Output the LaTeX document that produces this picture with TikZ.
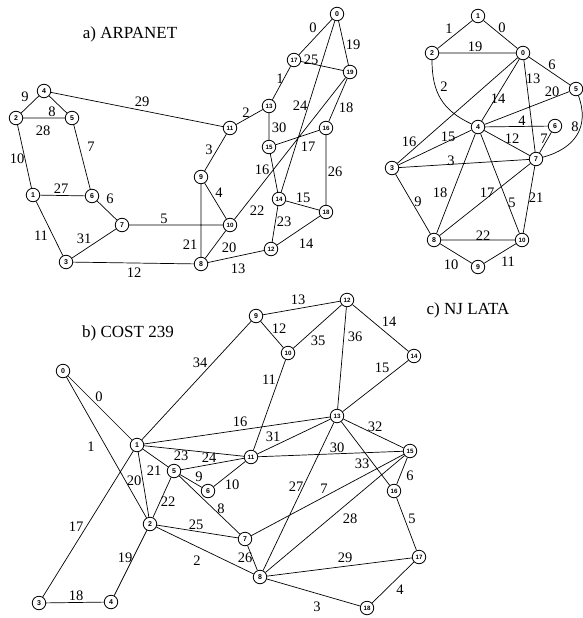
\documentclass[tikz,border=0pt]{standalone}
\usepackage{fontspec}
\setmainfont{Liberation Serif}
\setsansfont{Liberation Sans}
\begin{document}
\begin{tikzpicture}[x=1pt,y=1pt,
  vtx/.style={circle,draw,line width=0.8pt,minimum size=13.5pt,inner sep=0pt,fill=white,
    font=\sffamily\bfseries\fontsize{7}{7}\selectfont},
  vtxs/.style={vtx,font=\sffamily\bfseries\fontsize{6.2}{6.2}\selectfont},
  lab/.style={font=\fontsize{14.5}{14.5}\selectfont,inner sep=0pt},
  ttl/.style={font=\fontsize{17}{17}\selectfont,inner sep=0pt},
  edge/.style={line width=0.7pt}]
\useasboundingbox (0,0) rectangle (583,-618);
% titles
\node[ttl] (ta) at (130,-34) {a) ARPANET};
\node[ttl] (tb) at (128,-333) {b) COST 239};
\node[ttl] (tc) at (468,-310) {c) NJ LATA};
% ===== ARPANET =====
\node[vtx] (a0) at (337,-14) {0};
\node[vtx] (a1) at (33,-195) {1};
\node[vtx] (a2) at (16,-118) {2};
\node[vtx] (a3) at (66,-262) {3};
\node[vtx] (a4) at (44,-91) {4};
\node[vtx] (a5) at (72,-118) {5};
\node[vtx] (a6) at (92,-196) {6};
\node[vtx] (a7) at (122,-225) {7};
\node[vtx] (a8) at (201,-264) {8};
\node[vtx] (a9) at (201,-177) {9};
\node[vtxs] (a10) at (230,-225) {10};
\node[vtxs] (a11) at (230,-128) {11};
\node[vtxs] (a12) at (271,-249) {12};
\node[vtxs] (a13) at (269,-106) {13};
\node[vtxs] (a14) at (279,-199) {14};
\node[vtxs] (a15) at (269,-147) {15};
\node[vtxs] (a16) at (326,-128) {16};
\node[vtxs] (a17) at (294,-60) {17};
\node[vtxs] (a18) at (326,-212) {18};
\node[vtxs] (a19) at (350,-72) {19};
\draw[edge] (a0)--(a17) (a17)--(a13) (a13)--(a11) (a11)--(a9) (a9)--(a10)
 (a10)--(a7) (a7)--(a6) (a6)--(a5) (a5)--(a4) (a4)--(a2) (a2)--(a1) (a1)--(a3)
 (a3)--(a8) (a8)--(a12) (a12)--(a18) (a18)--(a14) (a15)--(a14) (a15)--(a16)
 (a19)--(a16) (a0)--(a19) (a10)--(a8) (a9)--(a8) (a19)--(a10) (a14)--(a12)
 (a0)--(a14) (a17)--(a19) (a16)--(a18) (a1)--(a6) (a2)--(a5) (a4)--(a11)
 (a13)--(a15) (a3)--(a7);
\node[lab] (la0) at (313,-28) {0};
\node[lab] (la1) at (280,-79) {1};
\node[lab] (la2) at (246,-113) {2};
\node[lab] (la3) at (209,-150) {3};
\node[lab] (la4) at (219,-193) {4};
\node[lab] (la5) at (164,-219) {5};
\node[lab] (la6) at (110,-199) {6};
\node[lab] (la7) at (91,-147) {7};
\node[lab] (la8) at (52,-112) {8};
\node[lab] (la9) at (25,-97) {9};
\node[lab] (la10) at (17,-159) {10};
\node[lab] (la11) at (41,-236) {11};
\node[lab] (la12) at (134,-273) {12};
\node[lab] (la13) at (238,-269) {13};
\node[lab] (la14) at (306,-244) {14};
\node[lab] (la15) at (303,-198) {15};
\node[lab] (la16) at (262,-170) {16};
\node[lab] (la17) at (308,-147) {17};
\node[lab] (la18) at (346,-108) {18};
\node[lab] (la19) at (353,-45) {19};
\node[lab] (la20) at (229,-248) {20};
\node[lab] (la21) at (190,-245) {21};
\node[lab] (la22) at (257,-211) {22};
\node[lab] (la23) at (284,-222) {23};
\node[lab] (la24) at (300,-106) {24};
\node[lab] (la25) at (311,-60) {25};
\node[lab] (la26) at (335,-172) {26};
\node[lab] (la27) at (61,-189) {27};
\node[lab] (la28) at (43,-131) {28};
\node[lab] (la29) at (142,-102) {29};
\node[lab] (la30) at (279,-128) {30};
\node[lab] (la31) at (84,-239) {31};
% ===== NJ LATA =====
\node[vtx] (n0) at (523,-53) {0};
\node[vtx] (n1) at (478,-16) {1};
\node[vtx] (n2) at (432,-53) {2};
\node[vtx] (n3) at (392,-168) {3};
\node[vtx] (n4) at (478,-127) {4};
\node[vtx] (n5) at (576,-89) {5};
\node[vtx] (n6) at (555,-126) {6};
\node[vtx] (n7) at (536,-159) {7};
\node[vtx] (n8) at (434,-240) {8};
\node[vtx] (n9) at (478,-267) {9};
\node[vtxs] (n10) at (522,-240) {10};
\draw[edge] (n1)--(n0) (n1)--(n2) (n3)--(n7) (n4)--(n6) (n4)--(n10) (n0)--(n5)
 (n6)--(n7) (n3)--(n8) (n8)--(n9) (n9)--(n10) (n4)--(n7) (n0)--(n7) (n0)--(n4)
 (n4)--(n3) (n0)--(n3) (n7)--(n8) (n4)--(n8) (n2)--(n0) (n5)--(n4) (n7)--(n10)
 (n8)--(n10);
\draw[edge] (n2) to[out=-90,in=155,looseness=1.1] (n4);
\draw[edge] (n5) to[out=-70,in=15,looseness=1.2] (n7);
\node[lab] (ln0) at (502,-28) {0};
\node[lab] (ln1) at (449,-29) {1};
\node[lab] (ln2) at (444,-87) {2};
\node[lab] (ln3) at (451,-161) {3};
\node[lab] (ln4) at (522,-121) {4};
\node[lab] (ln5) at (512,-203) {5};
\node[lab] (ln6) at (552,-65) {6};
\node[lab] (ln7) at (544,-139) {7};
\node[lab] (ln8) at (575,-127) {8};
\node[lab] (ln9) at (418,-202) {9};
\node[lab] (ln10) at (451,-265) {10};
\node[lab] (ln11) at (508,-262) {11};
\node[lab] (ln12) at (512,-139) {12};
\node[lab] (ln13) at (533,-79) {13};
\node[lab] (ln14) at (498,-99) {14};
\node[lab] (ln15) at (448,-137) {15};
\node[lab] (ln16) at (409,-142) {16};
\node[lab] (ln17) at (487,-193) {17};
\node[lab] (ln18) at (440,-193) {18};
\node[lab] (ln19) at (475,-47) {19};
\node[lab] (ln20) at (552,-92) {20};
\node[lab] (ln21) at (536,-198) {21};
\node[lab] (ln22) at (483,-236) {22};
% ===== COST 239 =====
\node[vtx] (c0) at (63,-371) {0};
\node[vtx] (c1) at (137,-445) {1};
\node[vtx] (c2) at (150,-524) {2};
\node[vtx] (c3) at (39,-603) {3};
\node[vtx] (c4) at (111,-602) {4};
\node[vtx] (c5) at (174,-471) {5};
\node[vtx] (c6) at (208,-491) {6};
\node[vtx] (c7) at (245,-539) {7};
\node[vtx] (c8) at (260,-577) {8};
\node[vtx] (c9) at (256,-316) {9};
\node[vtxs] (c10) at (288,-353) {10};
\node[vtxs] (c11) at (251,-457) {11};
\node[vtxs] (c12) at (347,-300) {12};
\node[vtxs] (c13) at (337,-416) {13};
\node[vtxs] (c14) at (414,-356) {14};
\node[vtxs] (c15) at (410,-451) {15};
\node[vtxs] (c16) at (394,-491) {16};
\node[vtxs] (c17) at (419,-557) {17};
\node[vtxs] (c18) at (367,-608) {18};
\draw[edge] (c0)--(c1) (c0)--(c2) (c2)--(c8) (c8)--(c18) (c17)--(c18) (c16)--(c17)
 (c15)--(c16) (c7)--(c15) (c5)--(c7) (c5)--(c6) (c6)--(c11) (c10)--(c11)
 (c9)--(c10) (c9)--(c12) (c12)--(c14) (c14)--(c13) (c1)--(c13) (c1)--(c3)
 (c3)--(c4) (c2)--(c4) (c1)--(c2) (c1)--(c5) (c5)--(c2) (c1)--(c11) (c5)--(c11)
 (c2)--(c7) (c7)--(c8) (c13)--(c8) (c8)--(c15) (c8)--(c17) (c11)--(c15)
 (c11)--(c13) (c13)--(c15) (c13)--(c16) (c1)--(c9) (c10)--(c12) (c12)--(c13);
\node[lab] (lc0) at (99,-397) {0};
\node[lab] (lc1) at (91,-447) {1};
\node[lab] (lc2) at (197,-561) {2};
\node[lab] (lc3) at (317,-607) {3};
\node[lab] (lc4) at (400,-590) {4};
\node[lab] (lc5) at (412,-519) {5};
\node[lab] (lc6) at (410,-476) {6};
\node[lab] (lc7) at (324,-489) {7};
\node[lab] (lc8) at (221,-509) {8};
\node[lab] (lc9) at (199,-477) {9};
\node[lab] (lc10) at (232,-485) {10};
\node[lab] (lc11) at (269,-380) {11};
\node[lab] (lc12) at (279,-329) {12};
\node[lab] (lc13) at (298,-300) {13};
\node[lab] (lc14) at (389,-322) {14};
\node[lab] (lc15) at (382,-368) {15};
\node[lab] (lc16) at (240,-422) {16};
\node[lab] (lc17) at (76,-527) {17};
\node[lab] (lc18) at (76,-596) {18};
\node[lab] (lc19) at (125,-558) {19};
\node[lab] (lc20) at (134,-481) {20};
\node[lab] (lc21) at (154,-471) {21};
\node[lab] (lc22) at (168,-502) {22};
\node[lab] (lc23) at (181,-456) {23};
\node[lab] (lc24) at (209,-458) {24};
\node[lab] (lc25) at (196,-525) {25};
\node[lab] (lc26) at (245,-558) {26};
\node[lab] (lc27) at (296,-487) {27};
\node[lab] (lc28) at (350,-519) {28};
\node[lab] (lc29) at (345,-558) {29};
\node[lab] (lc30) at (337,-448) {30};
\node[lab] (lc31) at (273,-437) {31};
\node[lab] (lc32) at (375,-427) {32};
\node[lab] (lc33) at (362,-464) {33};
\node[lab] (lc34) at (200,-363) {34};
\node[lab] (lc35) at (318,-341) {35};
\node[lab] (lc36) at (355,-337) {36};
\end{tikzpicture}
\end{document}
